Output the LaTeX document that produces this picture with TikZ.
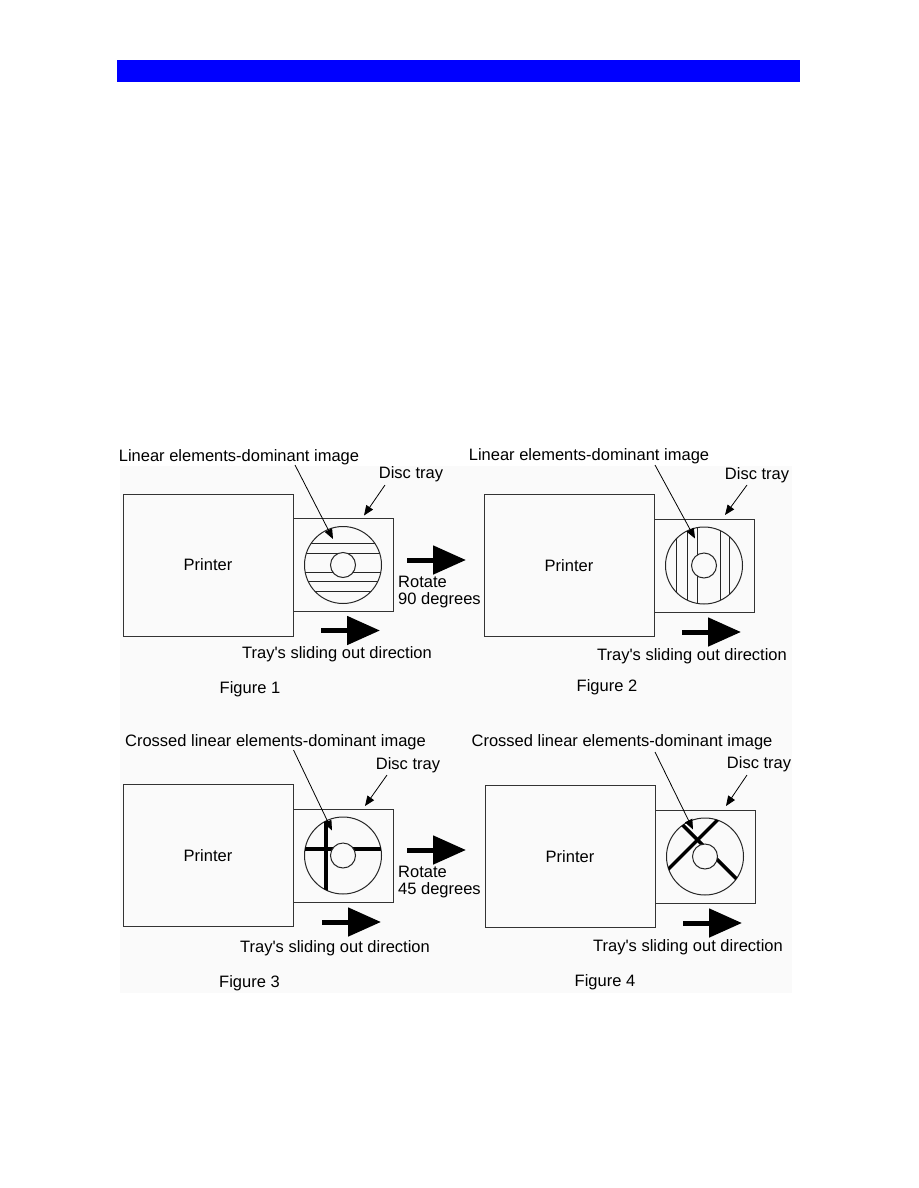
\documentclass[tikz,border=0pt]{standalone}
\usepackage{fontspec}
\setmainfont{Liberation Sans}
\usepackage{xcolor}
\usetikzlibrary{arrows.meta,positioning,calc}
\colorlet{panel}{black!2}
\tikzset{
  box/.style={rectangle, draw=black!80, line width=1pt, inner sep=0pt, outer sep=0pt,
              font=\fontsize{16.5}{16.5}\selectfont},
  printer/.style={box, minimum width=170pt, minimum height=142pt},
  tray/.style={box, minimum width=100pt, minimum height=93pt},
  disc/.style={circle, draw=black!85, line width=1pt, inner sep=0pt, minimum size=77pt},
  hole/.style={circle, draw=black!85, line width=1pt, fill=panel, inner sep=0pt, minimum size=25pt},
  lbl/.style={inner sep=0pt, font=\fontsize{16.5}{16.5}\selectfont},
  lead/.style={-{Triangle[length=10pt,width=8pt]}, line width=0.8pt},
  big/.style={-{Triangle[length=33pt,width=28pt]}, line width=5pt}
}

\begin{document}
\begin{tikzpicture}[
  x=1pt, y=-1pt,
  stripe/.style={line width=1pt, draw=black!85},
  bar/.style={line width=3.5pt}
]
\useasboundingbox (0,0) rectangle (918,1188);
\fill[white] (0,0) rectangle (918,1188);
\fill[blue] (117,60) rectangle (800,82);
\fill[panel] (120,466) rectangle (792,993);
% ---- Figure 1 ----
\node[printer] (p1) at (208,565) {Printer};
\node[tray, right=0pt of p1] (t1) {};
\node[disc] (d1) at (t1.center) {};
\begin{scope}
\clip (d1) circle [radius=38.5pt];
\foreach \o in {-21.7,-12,7.3,16.7,26.7}
  \draw[stripe] ($(d1)+(-40,\o)$) -- ($(d1)+(40,\o)$);
\end{scope}
\node[hole] (h1) at (d1.center) {};
\node[lbl] (img1) at (239,457) {Linear elements-dominant image};
\node[lbl] (dt1) at (411,474) {Disc tray};
\coordinate (a1) at ($(d1)+(-10,-26)$);
\coordinate (b1) at ($(t1.north)+(21,-3)$);
\draw[lead] ($(img1)+(56,8)$) -- (a1);
\draw[lead] ($(dt1)+(-26,11)$) -- (b1);
\node[lbl, align=left, anchor=north west] (r1) at (398,576) {Rotate\\90 degrees};
\draw[big] ($(r1.north west)+(9,-16)$) -- ++(59,0);
\draw[big] ($(t1.south west)+(28,19)$) -- ++(59,0);
\node[lbl] (s1) at (337,654) {Tray\textquotesingle s sliding out direction};
\node[lbl] (f1) at (250,689) {Figure 1};
% ---- Figure 2 ----
\node[printer] (p2) at (569,565.5) {Printer};
\node[tray, right=0pt of p2] (t2) {};
\node[disc] (d2) at (t2.center) {};
\begin{scope}
\clip (d2) circle [radius=38.5pt];
\foreach \o in {-28,-17,-7,16.4,25.4}
  \draw[stripe] ($(d2)+(\o,-40)$) -- ($(d2)+(\o,40)$);
\end{scope}
\node[hole] (h2) at (d2.center) {};
\node[lbl] (img2) at (589,456) {Linear elements-dominant image};
\node[lbl] (dt2) at (757,475) {Disc tray};
\coordinate (a2) at ($(d2)+(-9,-27)$);
\coordinate (b2) at ($(t2.north)+(21,-4)$);
\draw[lead] ($(img2)+(66,9)$) -- (a2);
\draw[lead] ($(dt2)+(-10,10)$) -- (b2);
\draw[big] ($(t2.south west)+(28,20)$) -- ++(59,0);
\node[lbl] (s2) at (692,656) {Tray\textquotesingle s sliding out direction};
\node[lbl] (f2) at (607,687) {Figure 2};
% ---- Figure 3 ----
\node[printer] (p3) at (208,855.5) {Printer};
\node[tray, right=0pt of p3] (t3) {};
\node[disc] (d3) at (t3.center) {};
\begin{scope}
\clip (d3) circle [radius=38.5pt];
\draw[bar] ($(d3)+(-17,-40)$) -- ($(d3)+(-17,40)$);
\draw[bar] ($(d3)+(-40,-6.5)$) -- ($(d3)+(40,-6.5)$);
\end{scope}
\node[hole] (h3) at (d3.center) {};
\node[lbl] (img3) at (275.5,742) {Crossed linear elements-dominant image};
\node[lbl] (dt3) at (408,765) {Disc tray};
\coordinate (a3) at ($(d3)+(-11,-25)$);
\coordinate (b3) at ($(t3.north)+(22,-3)$);
\draw[lead] ($(img3)+(18,8)$) -- (a3);
\draw[lead] ($(dt3)+(-21,10)$) -- (b3);
\node[lbl, align=left, anchor=north west] (r3) at (398,866) {Rotate\\45 degrees};
\draw[big] ($(r3.north west)+(9,-16)$) -- ++(59,0);
\draw[big] ($(t3.south west)+(29,20)$) -- ++(59,0);
\node[lbl] (s3) at (335,948) {Tray\textquotesingle s sliding out direction};
\node[lbl] (f3) at (249.5,983) {Figure 3};
% ---- Figure 4 ----
\node[printer] (p4) at (570,856.5) {Printer};
\node[tray, right=0pt of p4] (t4) {};
\node[disc] (d4) at (t4.center) {};
\begin{scope}
\clip (d4) circle [radius=38.5pt];
\draw[bar] ($(d4)+(-54.4,30.4)$) -- ($(d4)+(30.4,-54.4)$);
\draw[bar] ($(d4)+(-37.8,-47)$) -- ($(d4)+(47,37.8)$);
\end{scope}
\node[hole] (h4) at (d4.center) {};
\node[lbl] (img4) at (622,742) {Crossed linear elements-dominant image};
\node[lbl] (dt4) at (759,764) {Disc tray};
\coordinate (a4) at ($(d4)+(-12,-27)$);
\coordinate (b4) at ($(t4.north)+(21,-4)$);
\draw[lead] ($(img4)+(33,10)$) -- (a4);
\draw[lead] ($(dt4)+(-12,11)$) -- (b4);
\draw[big] ($(t4.south west)+(28,20)$) -- ++(59,0);
\node[lbl] (s4) at (688,947) {Tray\textquotesingle s sliding out direction};
\node[lbl] (f4) at (605,982) {Figure 4};
\end{tikzpicture}
\end{document}
